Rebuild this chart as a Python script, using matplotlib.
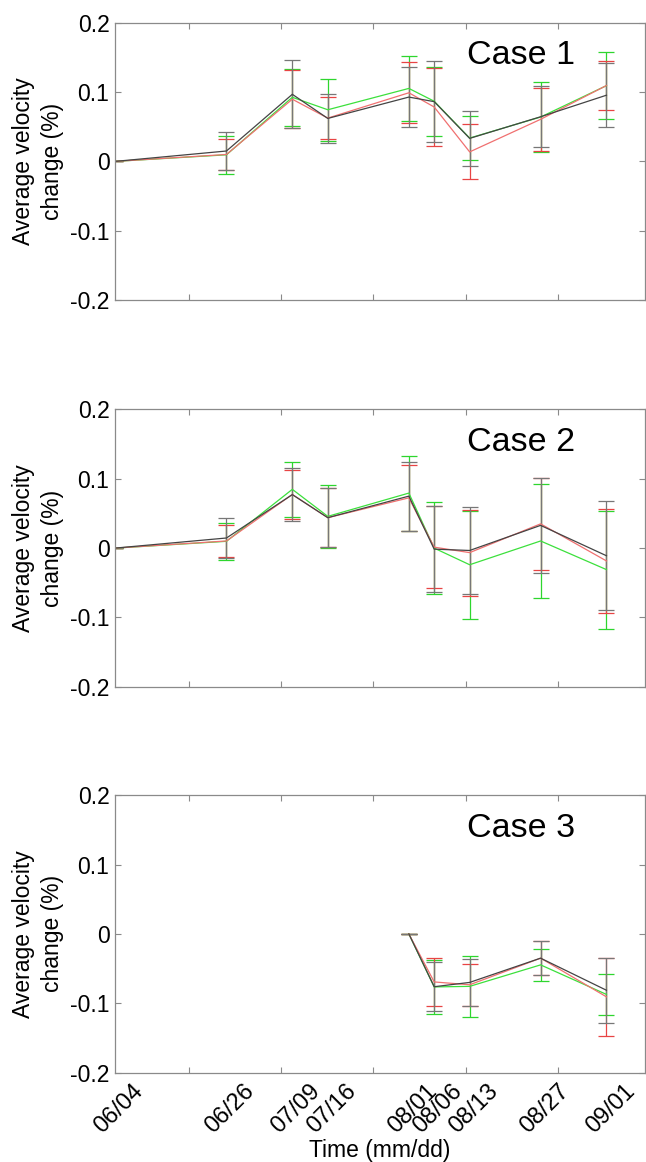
import numpy as np
import matplotlib.pyplot as plt
from matplotlib.transforms import ScaledTranslation, blended_transform_factory

plt.rcParams['font.family'] = ['Liberation Sans', 'DejaVu Sans']

# survey dates (days after 06/04) and their labels
days = [0, 22, 35, 42, 58, 63, 70, 84, 97]
date_labels = ['06/04', '06/26', '07/09', '07/16', '08/01', '08/06', '08/13', '08/27', '09/01']

# --- Case 1 ---
c1_black = [0, 0.015, 0.0968, 0.062, 0.0928, 0.0862, 0.0332, 0.0644, 0.0955]
c1_black_err = [0, 0.028, 0.049, 0.0354, 0.0438, 0.0588, 0.040, 0.0442, 0.0465]
c1_red = [0, 0.010, 0.0897, 0.0625, 0.099, 0.0785, 0.0137, 0.0607, 0.1095]
c1_red_err = [0, 0.0225, 0.042, 0.0303, 0.044, 0.0565, 0.0397, 0.0453, 0.0355]
c1_green = [0, 0.0095, 0.0925, 0.0745, 0.1053, 0.0868, 0.0337, 0.064, 0.1093]
c1_green_err = [0, 0.027, 0.0415, 0.0447, 0.0467, 0.0498, 0.0317, 0.050, 0.0487]

# --- Case 2 ---
c2_black = [0, 0.0146, 0.0772, 0.0439, 0.075, -0.0015, -0.0034, 0.0328, -0.011]
c2_black_err = [0, 0.029, 0.0379, 0.0425, 0.0497, 0.062, 0.063, 0.068, 0.0787]
c2_red = [0, 0.0103, 0.0774, 0.0439, 0.0725, 0.0014, -0.0065, 0.035, -0.0185]
c2_red_err = [0, 0.0233, 0.0357, 0.0425, 0.0475, 0.059, 0.062, 0.066, 0.075]
c2_green = [0, 0.0098, 0.0848, 0.0458, 0.0794, 0.0, -0.024, 0.0103, -0.031]
c2_green_err = [0, 0.0266, 0.0392, 0.0453, 0.054, 0.066, 0.078, 0.082, 0.085]

# --- Case 3 (starts on 08/01) ---
c3_days = days[4:]
c3_black = [0, -0.0762, -0.070, -0.035, -0.0813]
c3_black_err = [0, 0.035, 0.034, 0.0248, 0.0467]
c3_red = [0, -0.0693, -0.0734, -0.035, -0.0908]
c3_red_err = [0, 0.0347, 0.0306, 0.025, 0.056]
c3_green = [0, -0.0765, -0.0757, -0.0447, -0.0873]
c3_green_err = [0, 0.0395, 0.044, 0.0235, 0.030]

cases = [
    ('Case 1', days, c1_black, c1_black_err, c1_red, c1_red_err, c1_green, c1_green_err),
    ('Case 2', days, c2_black, c2_black_err, c2_red, c2_red_err, c2_green, c2_green_err),
    ('Case 3', c3_days, c3_black, c3_black_err, c3_red, c3_red_err, c3_green, c3_green_err),
]

fig = plt.figure(figsize=(6.46, 11.62), dpi=100)
bottoms = [0.7418, 0.409, 0.077]
spine_col = '#8a8a8a'
fs = 16.5

for i, (name, x, kb, eb, r, er, g, eg) in enumerate(cases):
    ax = fig.add_axes([0.178, bottoms[i], 0.8204, 0.2386])

    ax.errorbar(x, g, yerr=eg, color='#3ce03c', ecolor='#2ed62e', lw=0.9,
                elinewidth=0.9, capsize=6, capthick=0.9)
    ax.errorbar(x, r, yerr=er, color='#f07070', ecolor='#e84444', lw=0.9,
                elinewidth=0.9, capsize=6, capthick=0.9)
    ax.errorbar(x, kb, yerr=eb, color='#444444', ecolor='#777777', lw=0.9,
                elinewidth=0.9, capsize=6, capthick=0.9)

    ax.set_xlim(0, 104.6)
    ax.set_ylim(-0.2, 0.2)
    ax.set_yticks([-0.2, -0.1, 0, 0.1, 0.2])
    ax.set_yticklabels(['-0.2', '-0.1', '0', '0.1', '0.2'])
    ax.set_xticks(np.arange(14.6, 104, 18.2))
    ax.set_xticklabels([])
    ax.tick_params(direction='in', length=4, width=0.8, color=spine_col,
                   top=True, right=True, labelsize=fs, pad=4)
    for sp in ax.spines.values():
        sp.set_color(spine_col)
        sp.set_linewidth(0.9)

    ax.set_ylabel('Average velocity\nchange (%)', fontsize=fs, va='center',
                  linespacing=1.3)
    ax.yaxis.set_label_coords(-0.145, 0.5)

    ax.text(0.664, 0.85, name, transform=ax.transAxes, fontsize=24.5,
            ha='left', va='baseline')

    if i == 2:
        trans = blended_transform_factory(ax.transData, ax.transAxes) + \
            ScaledTranslation(0.17, -0.075, fig.dpi_scale_trans)
        for d, lab in zip(days, date_labels):
            ax.text(d, 0, lab, transform=trans, rotation=45, rotation_mode='anchor',
                    ha='right', va='top', fontsize=fs + 0.5)

fig.text(380 / 646, 1 - 1157 / 1162, 'Time (mm/dd)', ha='center', va='baseline',
         fontsize=fs)

fig.savefig('out.png', dpi=100)
